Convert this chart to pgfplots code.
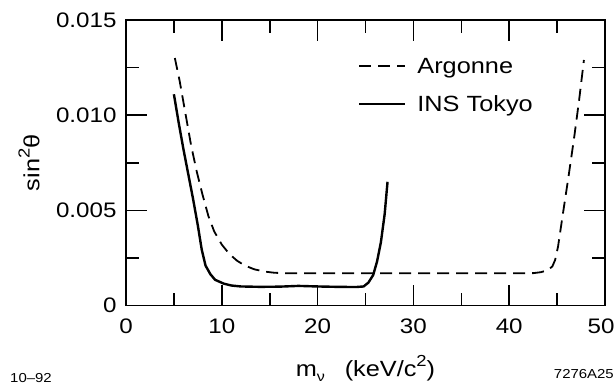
\documentclass[border=0pt]{standalone}
\usepackage{fontspec}
\setmainfont{Liberation Sans}[FakeStretch=1.15]
\usepackage{pgfplots}
\pgfplotsset{compat=1.18}
\pgfplotstableread{
x y
5.1 0.0130
5.6 0.0118
6.2 0.0101
6.8 0.0084
7.4 0.0070
8.0 0.0058
8.6 0.0047
9.2 0.0039
10.0 0.0032
10.8 0.0027
11.6 0.00235
12.4 0.0021
13.4 0.0019
14.5 0.00178
15.5 0.00172
17.0 0.00169
25.0 0.00169
35.0 0.00169
42.5 0.00170
43.3 0.00175
44.0 0.00185
44.5 0.00205
44.8 0.0024
45.1 0.0031
45.6 0.0048
46.2 0.0068
46.8 0.0089
47.3 0.0108
47.8 0.0129
}\argonne
\pgfplotstableread{
x y
5.0 0.0111
5.5 0.0096
6.0 0.0082
6.5 0.0069
7.0 0.0056
7.5 0.0042
7.9 0.00295
8.3 0.0021
8.8 0.00165
9.3 0.00135
10.2 0.00115
11.0 0.00105
12.0 0.00100
14.0 0.00098
16.0 0.00099
18.0 0.00103
20.0 0.00100
22.0 0.00098
24.0 0.00097
24.8 0.00100
25.3 0.00120
25.8 0.00160
26.2 0.00230
26.6 0.00330
27.0 0.00480
27.3 0.00650
}\tokyo
\begin{document}
\begin{tikzpicture}[x=1pt,y=1pt]
\path[use as bounding box] (0,0) rectangle (615,388);
\begin{axis}[
  at={(126pt,82.5pt)}, anchor=south west,
  scale only axis, width=479pt, height=285.5pt,
  xmin=0, xmax=50, ymin=0, ymax=0.015,
  xtick={0,10,20,30,40,50}, xticklabels={0,10,20,30,40,\kern-8pt 50},
  minor xtick={5,15,25,35,45},
  ytick={0,0.005,0.01,0.015}, yticklabels={0,0.005,0.010,0.015},
  minor ytick={0.0025,0.0075,0.0125},
  scaled y ticks=false,
  tick align=inside,
  major tick length=21pt, minor tick length=13pt,
  axis line style={line width=1.8pt},
  every tick/.style={line width=1.6pt, black},
  tick label style={font=\fontsize{21}{24}\selectfont},
  xticklabel style={anchor=north, yshift=-10pt},
  yticklabel style={anchor=east, xshift=-6pt},
  xlabel={m\raisebox{-0.25em}{\fontsize{14}{16}\selectfont ν}\hspace{0.9em}(keV/c\raisebox{0.45em}{\fontsize{16}{18}\selectfont 2})},
  ylabel={sin\raisebox{0.45em}{\fontsize{16}{18}\selectfont 2}θ},
  every axis x label/.style={at={(rel axis cs:0.5,0)}, anchor=base, yshift=-70.5pt, font=\fontsize{22}{26}\selectfont},
  every axis y label/.style={at={(rel axis cs:0,0.5)}, xshift=-97pt, rotate=90, anchor=center, font=\fontsize{22}{26}\selectfont},
  legend cell align=left,
  legend style={draw=none, fill=none, at={(rel axis cs:0.484,0.875)}, anchor=north west,
    font=\fontsize{22}{26}\selectfont, row sep=17pt, column sep=9pt, inner sep=0pt},
  legend image code/.code={\draw[#1] (0pt,0pt) -- (46pt,0pt);},
]
\addplot[black, line width=1.8pt, dash pattern=on 12pt off 7pt] table {\argonne};
\addlegendentry{Argonne}
\addplot[black, line width=2.4pt] table {\tokyo};
\addlegendentry{INS Tokyo}
\end{axis}
\node[anchor=base west, font=\fontsize{13}{15}\selectfont, inner sep=0pt] at (10,6) {10--92};
\node[anchor=base east, font=\fontsize{13}{15}\selectfont, inner sep=0pt] at (614,10) {7276A25};
\end{tikzpicture}
\end{document}
